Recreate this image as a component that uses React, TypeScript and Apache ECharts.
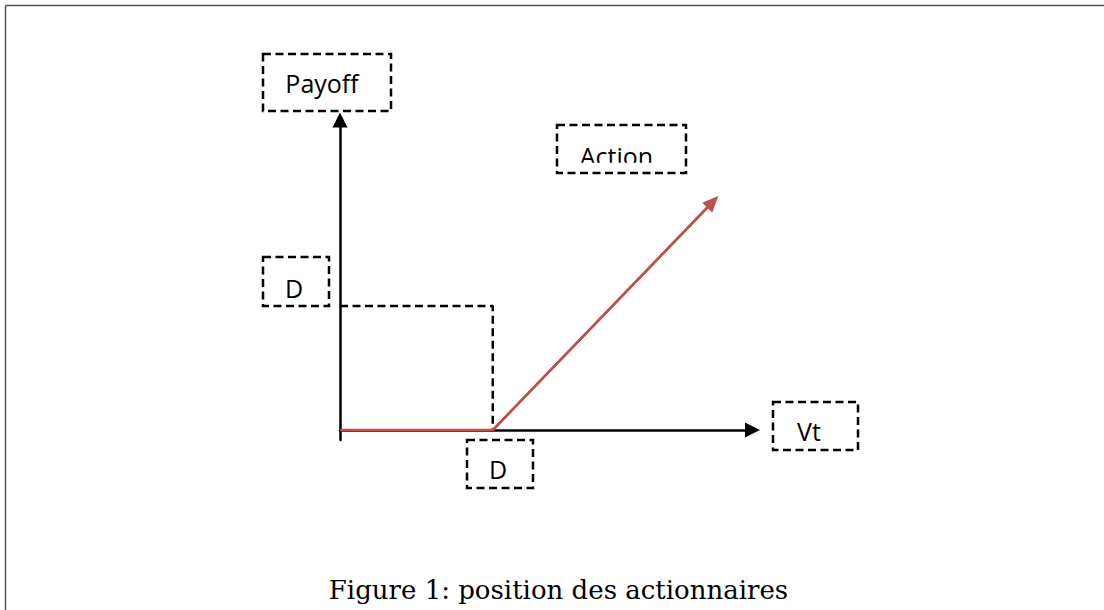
import React, { useEffect, useRef } from "react";
import * as echarts from "echarts";

// Data (arbitrary units: D = 1)
const strikeD = 1;
const payoffX = [0, strikeD, 2.44];
const payoffY = [0, 0, 1.84];
const dashX = [0, strikeD, strikeD];
const dashY = [strikeD, strikeD, 0];
const xRange = [0, 2.7];
const yRange = [-0.08, 2.5];
const labelTexts = ["Payoff", "Action", "D", "D", "Vt"];
const captionText = "Figure 1: position des actionnaires";

const RED = "#C0504D";
const FONT = "Open Sans";

export default function App() {
  const ref = useRef<HTMLDivElement>(null);
  useEffect(() => {
    if (!ref.current) return;
    const chart = echarts.init(ref.current, null, { renderer: "svg" });
    const payoffData = payoffX.map((x, i) => [x, payoffY[i]]);
    const dashData = dashX.map((x, i) => [x, dashY[i]]);
    const n = payoffData.length;

    const box = (x: number, y: number, w: number, h: number) => ({
      type: "rect",
      shape: { x, y, width: w, height: h },
      style: { fill: "none", stroke: "#000", lineWidth: 2.5, lineDash: [8, 4.5] },
      z: 10,
    });
    const label = (t: string, x: number, y: number) => ({
      type: "text",
      x,
      y,
      style: {
        text: t,
        font: `25px "${FONT}"`,
        fill: "#000",
        textAlign: "center",
        textVerticalAlign: "middle",
      },
      z: 11,
    });

    chart.setOption({
      animation: false,
      backgroundColor: "#fff",
      grid: { left: 340, right: 351.5, top: 120, bottom: 170, containLabel: false },
      xAxis: {
        type: "value",
        min: xRange[0],
        max: xRange[1],
        axisLine: {
          show: true,
          onZero: true,
          symbol: ["none", "triangle"],
          symbolSize: [15, 15],
          lineStyle: { color: "#000", width: 2.5 },
        },
        axisTick: { show: false },
        axisLabel: { show: false },
        splitLine: { show: false },
      },
      yAxis: {
        type: "value",
        min: yRange[0],
        max: yRange[1],
        axisLine: {
          show: true,
          onZero: false,
          symbol: ["none", "triangle"],
          symbolSize: [15, 15],
          lineStyle: { color: "#000", width: 2.5 },
        },
        axisTick: { show: false },
        axisLabel: { show: false },
        splitLine: { show: false },
      },
      series: [
        {
          type: "line",
          data: dashData,
          symbol: "none",
          lineStyle: { color: "#000", width: 2.5, type: [8, 4.5] },
          z: 3,
          silent: true,
        },
        {
          type: "line",
          data: payoffData,
          symbol: "none",
          lineStyle: { color: RED, width: 2.5 },
          z: 4,
          silent: true,
          markLine: {
            silent: true,
            symbol: ["none", "triangle"],
            symbolSize: [14, 16],
            label: { show: false },
            lineStyle: { color: RED, width: 2.5, type: "solid" },
            data: [
              [
                { coord: payoffData[n - 2] },
                { coord: payoffData[n - 1] },
              ],
            ],
          },
        },
      ],
      graphic: [
        // page frame
        { type: "line", shape: { x1: 5.5, y1: 5.5, x2: 1104, y2: 5.5 }, style: { stroke: "#555", lineWidth: 1.5 }, z: 1 },
        { type: "line", shape: { x1: 5.5, y1: 5.5, x2: 5.5, y2: 610 }, style: { stroke: "#555", lineWidth: 1.5 }, z: 1 },
        box(263, 54, 128, 57),
        label(labelTexts[0], 322, 83),
        box(557, 125, 129, 48),
        label(labelTexts[1], 616.5, 155.5),
        { type: "rect", shape: { x: 572, y: 162.7, width: 92, height: 7.5 }, style: { fill: "#fff" }, z: 12 },
        box(263, 257, 66, 49),
        label(labelTexts[2], 294, 287.5),
        box(467, 440, 66, 48),
        label(labelTexts[3], 498, 469),
        box(773, 402, 85, 48),
        label(labelTexts[4], 809, 431),
        {
          type: "text",
          x: 558.5,
          y: 590,
          style: {
            text: captionText,
            font: '26px "DejaVu Serif"',
            fill: "#000",
            textAlign: "center",
            textVerticalAlign: "middle",
          },
          z: 11,
        },
      ],
    });
    return () => chart.dispose();
  }, []);
  return (
    <div
      ref={ref}
      style={{ position: "absolute", left: 0, top: 0, width: 1104, height: 610 }}
    />
  );
}
